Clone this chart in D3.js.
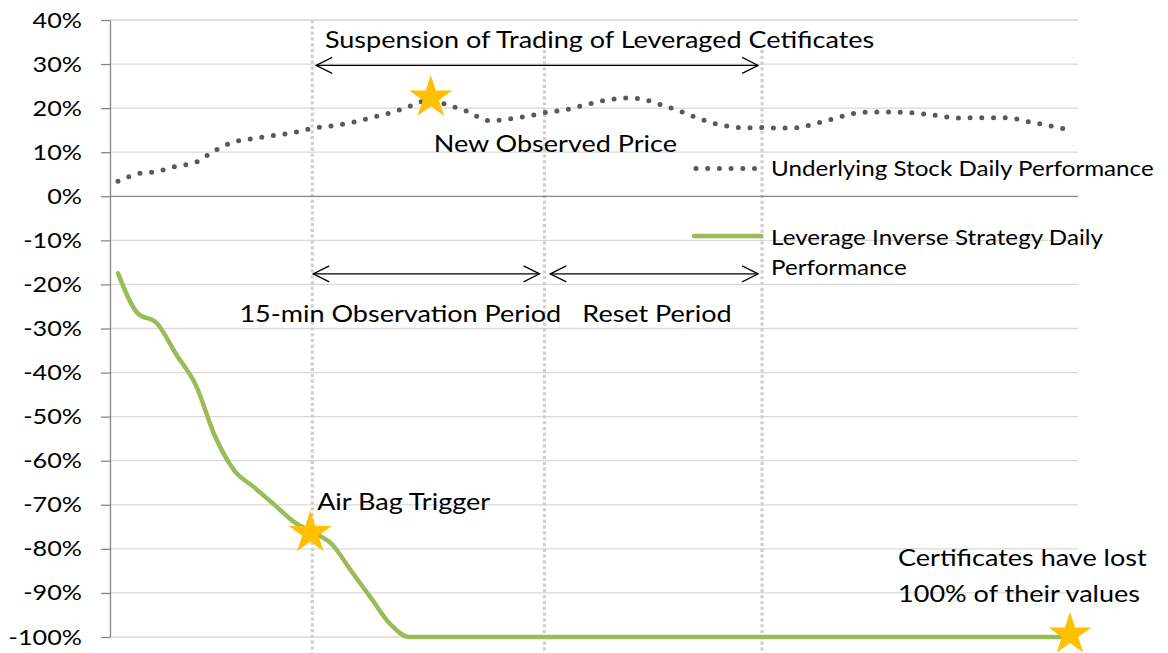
<!DOCTYPE html>
<html>
<head>
<meta charset="utf-8">
<script src="https://cdn.jsdelivr.net/npm/d3@7"></script>
<style>
  body { margin: 0; background: #fff; }
  text { font-family: Lato, "Open Sans", sans-serif; fill: #000; }
</style>
</head>
<body>
<div id="chart"></div>
<script>
// values in %, one per step of the x axis
var underlying = [3.4, 5.1, 5.6, 6.8, 7.7, 10.4, 12.4, 13.1, 13.8, 14.4,
  15.4, 16.0, 16.7, 17.8, 18.9, 20.4, 21.8, 20.7, 19.2, 17.2,
  17.5, 18.1, 19.0, 19.6, 20.7, 21.7, 22.3, 22.0, 20.7, 19.2,
  17.5, 16.2, 15.6, 15.6, 15.5, 15.6, 16.6, 17.8, 18.9, 19.1,
  19.1, 18.9, 18.4, 17.8, 17.8, 17.8, 17.7, 16.8, 16.0, 15.0];
var strategy = [-17.5, -26.5, -28.8, -35.9, -42.8, -54.5, -62.3, -66.0, -69.8, -73.7,
  -76.2, -78.9, -85.0, -91.0, -97.0, -100, -100, -100, -100, -100,
  -100, -100, -100, -100, -100, -100, -100, -100, -100, -100,
  -100, -100, -100, -100, -100, -100, -100, -100, -100, -100,
  -100, -100, -100, -100, -100, -100, -100, -100, -100, -100];
var yTicks = [40, 30, 20, 10, 0, -10, -20, -30, -40, -50, -60, -70, -80, -90, -100];

// event markers (step index, top of the line in %)
var events = [{i: 10, top: 40}, {i: 21.95, top: 33.2}, {i: 33.15, top: 33.2}];
var arrows = [
  {from: 10.2, to: 32.95, v: 29.7},
  {from: 10.05, to: 21.7, v: -17.6},
  {from: 22.25, to: 32.95, v: -17.6}
];
var stars = [{i: 16.1, v: 22.4}, {i: 9.9, v: -76.4}, {i: 49, v: -99.4}];
var notes = [
  {i: 10.65, v: 33.7, text: "Suspension of Trading of Leveraged Cetificates", size: 23},
  {i: 16.25, v: 10.0, text: "New Observed Price", size: 23},
  {i: 6.25, v: -28.6, text: "15-min Observation Period", size: 23},
  {i: 23.9, v: -28.6, text: "Reset Period", size: 23},
  {i: 10.25, v: -71.1, text: "Air Bag Trigger", size: 23},
  {i: 40.15, v: -84.0, text: "Certificates have lost", size: 23},
  {i: 40.15, v: -92.1, text: "100% of their values", size: 23}
];
var legend = [
  {name: "underlying", x1: 29.75, x2: 33.1, v: 6.3, lines: ["Underlying Stock Daily Performance"], ty: 4.6},
  {name: "strategy", x1: 29.65, x2: 33.1, v: -9.0, lines: ["Leverage Inverse Strategy Daily", "Performance"], ty: -11.1}
];

var width = 1168, height = 653;
var textSX = 1.175;

var svg = d3.select("#chart").append("svg")
    .attr("width", width)
    .attr("height", height);

var x = d3.scaleLinear().domain([0, 49]).range([118, 1070]);
var y = d3.scaleLinear().domain([-100, 40]).range([637, 20]);
var plotLeft = 110, plotRight = 1078;

var defs = svg.append("defs");
defs.append("marker")
    .attr("id", "chev")
    .attr("markerUnits", "userSpaceOnUse")
    .attr("viewBox", "-17 -9 18 18")
    .attr("refX", 0).attr("refY", 0)
    .attr("markerWidth", 18).attr("markerHeight", 18)
    .attr("orient", "auto-start-reverse")
  .append("path")
    .attr("d", "M-16,-8L0,0L-16,8")
    .attr("fill", "none")
    .attr("stroke", "#000")
    .attr("stroke-width", 1.2);

// gridlines
svg.append("g").selectAll("line")
    .data(yTicks.filter(function(d) { return d != 0; }))
  .enter().append("line")
    .attr("x1", plotLeft).attr("x2", plotRight)
    .attr("y1", function(d) { return y(d); })
    .attr("y2", function(d) { return y(d); })
    .attr("stroke", "#d9d9d9")
    .attr("stroke-width", 1.3);

// vertical event lines
svg.append("g").selectAll("line")
    .data(events)
  .enter().append("line")
    .attr("x1", function(d) { return x(d.i); })
    .attr("x2", function(d) { return x(d.i); })
    .attr("y1", function(d) { return y(d.top); })
    .attr("y2", height)
    .attr("stroke", "#d0d0d0")
    .attr("stroke-width", 3.2)
    .attr("stroke-dasharray", "3.2 2.6");

// zero line
svg.append("line")
    .attr("x1", plotLeft).attr("x2", plotRight)
    .attr("y1", y(0)).attr("y2", y(0))
    .attr("stroke", "#868686")
    .attr("stroke-width", 1.3);

// y axis
var yAxis = svg.append("g")
    .attr("transform", "translate(" + plotLeft + ",0)")
    .call(d3.axisLeft(y).tickValues(yTicks).tickSize(9).tickSizeOuter(0).tickPadding(0)
      .tickFormat(function(d) { return d + "%"; }));
yAxis.select(".domain").attr("stroke", "#868686").attr("stroke-width", 1.3);
yAxis.selectAll(".tick line").attr("stroke", "#868686").attr("stroke-width", 1.3);
yAxis.selectAll(".tick text")
    .attr("x", null).attr("dy", null)
    .attr("transform", "translate(-28,7) scale(1.2,1)")
    .attr("font-size", "21px")
    .attr("font-family", "Lato, sans-serif")
    .attr("fill", "#000");

// series
var lineU = d3.line()
    .x(function(d, i) { return x(i); })
    .y(function(d) { return y(d); })
    .curve(d3.curveCatmullRom.alpha(0.5));
var lineS = d3.line()
    .x(function(d, i) { return x(i); })
    .y(function(d) { return y(d); })
    .curve(d3.curveMonotoneX);

var styles = {
  underlying: {stroke: "#595959", width: 5, dash: "0 11.7"},
  strategy: {stroke: "#9bbb59", width: 4.5, dash: null}
};

svg.append("path")
    .datum(strategy)
    .attr("d", lineS)
    .attr("fill", "none")
    .attr("stroke", styles.strategy.stroke)
    .attr("stroke-width", styles.strategy.width)
    .attr("stroke-linecap", "round");

svg.append("path")
    .datum(underlying)
    .attr("d", lineU)
    .attr("fill", "none")
    .attr("stroke", styles.underlying.stroke)
    .attr("stroke-width", styles.underlying.width)
    .attr("stroke-linecap", "round")
    .attr("stroke-dasharray", styles.underlying.dash);

// legend
var lg = svg.append("g").selectAll("g")
    .data(legend)
  .enter().append("g");
lg.append("line")
    .attr("x1", function(d) { return x(d.x1); })
    .attr("x2", function(d) { return x(d.x2); })
    .attr("y1", function(d) { return y(d.v); })
    .attr("y2", function(d) { return y(d.v); })
    .attr("stroke", function(d) { return styles[d.name].stroke; })
    .attr("stroke-width", function(d) { return styles[d.name].width; })
    .attr("stroke-linecap", "round")
    .attr("stroke-dasharray", function(d) { return styles[d.name].dash; });
lg.each(function(d) {
  var g = d3.select(this);
  d.lines.forEach(function(t, k) {
    g.append("text")
        .attr("transform", "translate(" + (x(d.x2) + 10) + "," + (y(d.ty) + k * 30) + ") scale(" + textSX + ",1)")
        .attr("font-size", "20.6px")
        .text(t);
  });
});

// arrows
svg.append("g").selectAll("line")
    .data(arrows)
  .enter().append("line")
    .attr("x1", function(d) { return x(d.from); })
    .attr("x2", function(d) { return x(d.to); })
    .attr("y1", function(d) { return y(d.v); })
    .attr("y2", function(d) { return y(d.v); })
    .attr("stroke", "#000")
    .attr("stroke-width", 1.2)
    .attr("marker-start", "url(#chev)")
    .attr("marker-end", "url(#chev)");

// stars
svg.append("g").selectAll("path")
    .data(stars)
  .enter().append("path")
    .attr("d", d3.symbol(d3.symbolStar, 570))
    .attr("transform", function(d) { return "translate(" + x(d.i) + "," + y(d.v) + ")"; })
    .attr("fill", "#ffc000");

// annotations
svg.append("g").selectAll("text")
    .data(notes)
  .enter().append("text")
    .attr("transform", function(d) { return "translate(" + x(d.i) + "," + y(d.v) + ") scale(" + textSX + ",1)"; })
    .attr("font-size", function(d) { return d.size + "px"; })
    .text(function(d) { return d.text; });
</script>
</body>
</html>
